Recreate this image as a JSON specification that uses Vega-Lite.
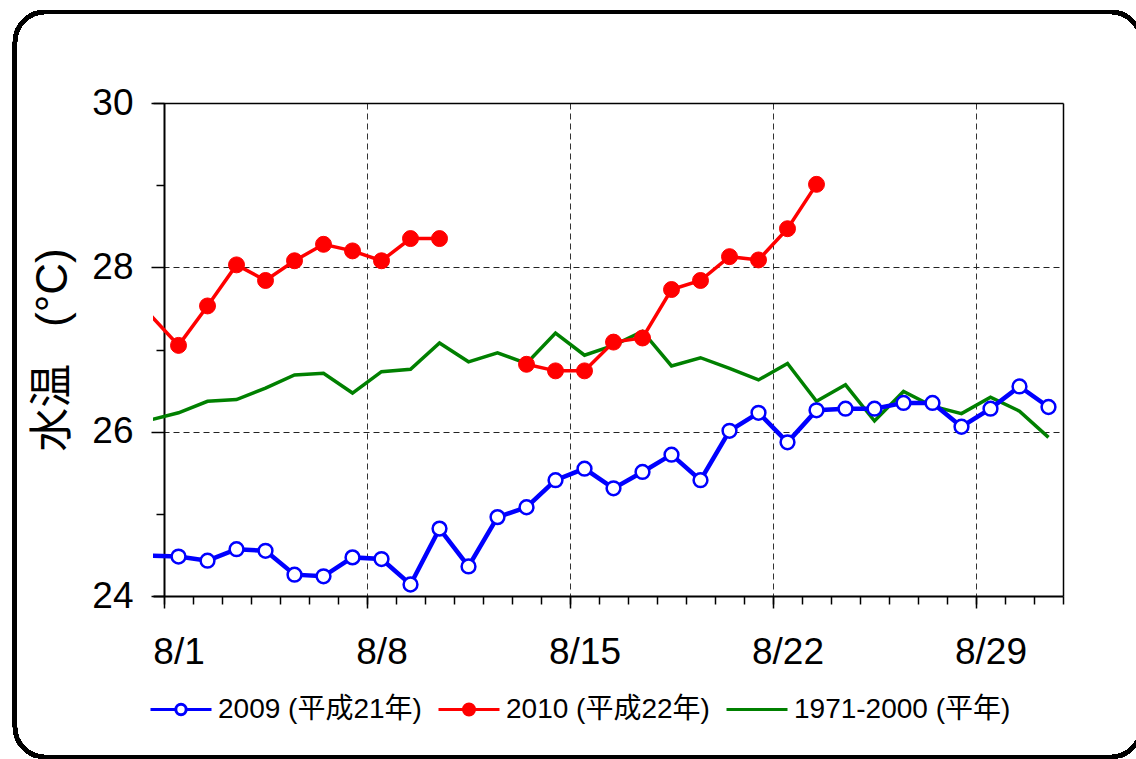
{
  "$schema": "https://vega.github.io/schema/vega-lite/v6.json",
  "autosize": {"type": "none"},
  "width": 910,
  "height": 493,
  "padding": {"left": 153, "top": 103, "right": 73, "bottom": 163},
  "background": "white",
  "data": {"values": [
    {"series": "2009 (平成21年)", "day": 0, "value": 24.49},
    {"series": "2009 (平成21年)", "day": 1, "value": 24.48},
    {"series": "2009 (平成21年)", "day": 2, "value": 24.43},
    {"series": "2009 (平成21年)", "day": 3, "value": 24.57},
    {"series": "2009 (平成21年)", "day": 4, "value": 24.55},
    {"series": "2009 (平成21年)", "day": 5, "value": 24.26},
    {"series": "2009 (平成21年)", "day": 6, "value": 24.24},
    {"series": "2009 (平成21年)", "day": 7, "value": 24.47},
    {"series": "2009 (平成21年)", "day": 8, "value": 24.45},
    {"series": "2009 (平成21年)", "day": 9, "value": 24.14},
    {"series": "2009 (平成21年)", "day": 10, "value": 24.82},
    {"series": "2009 (平成21年)", "day": 11, "value": 24.36},
    {"series": "2009 (平成21年)", "day": 12, "value": 24.96},
    {"series": "2009 (平成21年)", "day": 13, "value": 25.08},
    {"series": "2009 (平成21年)", "day": 14, "value": 25.41},
    {"series": "2009 (平成21年)", "day": 15, "value": 25.55},
    {"series": "2009 (平成21年)", "day": 16, "value": 25.31},
    {"series": "2009 (平成21年)", "day": 17, "value": 25.51},
    {"series": "2009 (平成21年)", "day": 18, "value": 25.72},
    {"series": "2009 (平成21年)", "day": 19, "value": 25.41},
    {"series": "2009 (平成21年)", "day": 20, "value": 26.01},
    {"series": "2009 (平成21年)", "day": 21, "value": 26.23},
    {"series": "2009 (平成21年)", "day": 22, "value": 25.87},
    {"series": "2009 (平成21年)", "day": 23, "value": 26.26},
    {"series": "2009 (平成21年)", "day": 24, "value": 26.28},
    {"series": "2009 (平成21年)", "day": 25, "value": 26.28},
    {"series": "2009 (平成21年)", "day": 26, "value": 26.35},
    {"series": "2009 (平成21年)", "day": 27, "value": 26.35},
    {"series": "2009 (平成21年)", "day": 28, "value": 26.06},
    {"series": "2009 (平成21年)", "day": 29, "value": 26.28},
    {"series": "2009 (平成21年)", "day": 30, "value": 26.55},
    {"series": "2009 (平成21年)", "day": 31, "value": 26.30},
    {"series": "2010 (平成22年)", "day": 0, "value": 27.43},
    {"series": "2010 (平成22年)", "day": 1, "value": 27.05},
    {"series": "2010 (平成22年)", "day": 2, "value": 27.53},
    {"series": "2010 (平成22年)", "day": 3, "value": 28.03},
    {"series": "2010 (平成22年)", "day": 4, "value": 27.84},
    {"series": "2010 (平成22年)", "day": 5, "value": 28.08},
    {"series": "2010 (平成22年)", "day": 6, "value": 28.28},
    {"series": "2010 (平成22年)", "day": 7, "value": 28.20},
    {"series": "2010 (平成22年)", "day": 8, "value": 28.08},
    {"series": "2010 (平成22年)", "day": 9, "value": 28.35},
    {"series": "2010 (平成22年)", "day": 10, "value": 28.35},
    {"series": "2010 (平成22年)", "day": 11, "value": null},
    {"series": "2010 (平成22年)", "day": 12, "value": null},
    {"series": "2010 (平成22年)", "day": 13, "value": 26.82},
    {"series": "2010 (平成22年)", "day": 14, "value": 26.74},
    {"series": "2010 (平成22年)", "day": 15, "value": 26.74},
    {"series": "2010 (平成22年)", "day": 16, "value": 27.09},
    {"series": "2010 (平成22年)", "day": 17, "value": 27.14},
    {"series": "2010 (平成22年)", "day": 18, "value": 27.73},
    {"series": "2010 (平成22年)", "day": 19, "value": 27.84},
    {"series": "2010 (平成22年)", "day": 20, "value": 28.13},
    {"series": "2010 (平成22年)", "day": 21, "value": 28.09},
    {"series": "2010 (平成22年)", "day": 22, "value": 28.47},
    {"series": "2010 (平成22年)", "day": 23, "value": 29.01},
    {"series": "1971-2000 (平年)", "day": 0, "value": 26.14},
    {"series": "1971-2000 (平年)", "day": 1, "value": 26.23},
    {"series": "1971-2000 (平年)", "day": 2, "value": 26.37},
    {"series": "1971-2000 (平年)", "day": 3, "value": 26.39},
    {"series": "1971-2000 (平年)", "day": 4, "value": 26.53},
    {"series": "1971-2000 (平年)", "day": 5, "value": 26.69},
    {"series": "1971-2000 (平年)", "day": 6, "value": 26.71},
    {"series": "1971-2000 (平年)", "day": 7, "value": 26.47},
    {"series": "1971-2000 (平年)", "day": 8, "value": 26.73},
    {"series": "1971-2000 (平年)", "day": 9, "value": 26.76},
    {"series": "1971-2000 (平年)", "day": 10, "value": 27.08},
    {"series": "1971-2000 (平年)", "day": 11, "value": 26.85},
    {"series": "1971-2000 (平年)", "day": 12, "value": 26.96},
    {"series": "1971-2000 (平年)", "day": 13, "value": 26.83},
    {"series": "1971-2000 (平年)", "day": 14, "value": 27.20},
    {"series": "1971-2000 (平年)", "day": 15, "value": 26.93},
    {"series": "1971-2000 (平年)", "day": 16, "value": 27.05},
    {"series": "1971-2000 (平年)", "day": 17, "value": 27.22},
    {"series": "1971-2000 (平年)", "day": 18, "value": 26.80},
    {"series": "1971-2000 (平年)", "day": 19, "value": 26.90},
    {"series": "1971-2000 (平年)", "day": 20, "value": 26.77},
    {"series": "1971-2000 (平年)", "day": 21, "value": 26.63},
    {"series": "1971-2000 (平年)", "day": 22, "value": 26.83},
    {"series": "1971-2000 (平年)", "day": 23, "value": 26.37},
    {"series": "1971-2000 (平年)", "day": 24, "value": 26.57},
    {"series": "1971-2000 (平年)", "day": 25, "value": 26.13},
    {"series": "1971-2000 (平年)", "day": 26, "value": 26.49},
    {"series": "1971-2000 (平年)", "day": 27, "value": 26.31},
    {"series": "1971-2000 (平年)", "day": 28, "value": 26.22},
    {"series": "1971-2000 (平年)", "day": 29, "value": 26.42},
    {"series": "1971-2000 (平年)", "day": 30, "value": 26.25},
    {"series": "1971-2000 (平年)", "day": 31, "value": 25.93}
  ]},
  "resolve": {"axis": {"x": "independent", "y": "independent"}},
  "layer": [
    {
      "mark": {"type": "rect", "fill": "transparent", "stroke": "black", "strokeWidth": 4, "cornerRadius": 30, "clip": false},
      "encoding": {
        "x": {"datum": -4.64, "type": "quantitative", "scale": {"domain": [0.12, 31.5], "nice": false, "zero": false}, "axis": null},
        "x2": {"datum": 34.19},
        "y": {"datum": 31.107, "type": "quantitative", "scale": {"domain": [24, 30], "nice": false, "zero": false}, "axis": null},
        "y2": {"datum": 22.041}
      }
    },
    {
      "transform": [{"filter": "datum.series === '1971-2000 (平年)'"}],
      "mark": {"type": "line", "strokeWidth": 3.5, "clip": true},
      "encoding": {
        "x": {"field": "day", "type": "quantitative", "scale": {"domain": [0.12, 31.5], "nice": false, "zero": false},
              "axis": {"orient": "bottom", "values": [7.5, 14.5, 21.5, 28.5], "grid": true, "gridDash": [6, 4], "gridColor": "#333", "gridWidth": 1, "ticks": false, "labels": false, "domain": false, "title": null}},
        "y": {"field": "value", "type": "quantitative", "scale": {"domain": [24, 30], "nice": false, "zero": false},
              "axis": {"orient": "left", "values": [26, 28], "grid": true, "gridDash": [6, 4], "gridColor": "#222", "gridWidth": 1, "ticks": false, "labels": false, "domain": false, "title": null}},
        "stroke": {"field": "series", "type": "nominal", "scale": {"domain": ["2009 (平成21年)", "2010 (平成22年)", "1971-2000 (平年)"], "range": ["#0000ff", "#ff0000", "#008000"]}, "legend": {"title": null}}
      }
    },
    {
      "transform": [{"filter": "datum.series === '2009 (平成21年)'"}],
      "mark": {"type": "line", "strokeWidth": 4.5, "clip": true},
      "encoding": {
        "x": {"field": "day", "type": "quantitative", "scale": {"domain": [0.12, 31.5], "nice": false, "zero": false},
              "axis": {"orient": "bottom", "values": [0.5, 1.5, 2.5, 3.5, 4.5, 5.5, 6.5, 7.5, 8.5, 9.5, 10.5, 11.5, 12.5, 13.5, 14.5, 15.5, 16.5, 17.5, 18.5, 19.5, 20.5, 21.5, 22.5, 23.5, 24.5, 25.5, 26.5, 27.5, 28.5, 29.5, 30.5, 31.5], "ticks": true, "tickSize": 8, "tickWidth": 1.5, "tickColor": "black", "labels": false, "domain": true, "domainWidth": 2, "domainColor": "black", "grid": false, "title": null}},
        "y": {"field": "value", "type": "quantitative", "scale": {"domain": [24, 30], "nice": false, "zero": false},
              "axis": {"orient": "left", "values": [25, 27, 29], "ticks": true, "tickSize": 8, "tickWidth": 1.5, "tickColor": "black", "labels": false, "domain": false, "grid": false, "offset": -11, "title": null}},
        "stroke": {"field": "series", "type": "nominal", "scale": {"domain": ["2009 (平成21年)", "2010 (平成22年)", "1971-2000 (平年)"], "range": ["#0000ff", "#ff0000", "#008000"]}, "legend": {"title": null}}
      }
    },
    {
      "transform": [{"filter": "datum.series === '2009 (平成21年)' && datum.day >= 1"}],
      "mark": {"type": "point", "filled": true, "opacity": 1, "size": 190, "strokeWidth": 2.5},
      "encoding": {
        "x": {"field": "day", "type": "quantitative", "scale": {"domain": [0.12, 31.5], "nice": false, "zero": false},
              "axis": {"orient": "bottom", "values": [0.5, 7.5, 14.5, 21.5, 28.5], "ticks": true, "tickSize": 12, "tickWidth": 1.5, "tickColor": "black", "labels": false, "domain": false, "grid": false, "title": null}},
        "y": {"field": "value", "type": "quantitative", "scale": {"domain": [24, 30], "nice": false, "zero": false},
              "axis": {"orient": "left", "values": [24, 26, 28, 30], "ticks": true, "tickSize": 13, "tickWidth": 1.5, "tickColor": "black", "labels": true, "labelFontSize": 37, "labelPadding": 18, "labelColor": "black", "labelFlush": false, "domain": true, "domainWidth": 2, "domainColor": "black", "grid": false, "offset": -11,
                       "title": "水温\u00a0\u00a0\u00a0(°C)", "titleFontSize": 44, "titleFontWeight": "normal", "titleColor": "black", "titleX": -111, "titleY": 246.5, "titleBaseline": "middle", "titleAlign": "center", "titleAngle": 270}},
        "stroke": {"field": "series", "type": "nominal", "scale": {"domain": ["2009 (平成21年)", "2010 (平成22年)", "1971-2000 (平年)"], "range": ["#0000ff", "#ff0000", "#008000"]}, "legend": {"title": null}},
        "fill": {"field": "series", "type": "nominal", "scale": {"domain": ["2009 (平成21年)", "2010 (平成22年)", "1971-2000 (平年)"], "range": ["#ffffff", "#ff0000", "#008000"]}, "legend": {"title": null}}
      }
    },
    {
      "transform": [{"filter": "datum.series === '2010 (平成22年)'"}],
      "mark": {"type": "line", "strokeWidth": 3.5, "clip": true},
      "encoding": {
        "x": {"field": "day", "type": "quantitative", "scale": {"domain": [0.12, 31.5], "nice": false, "zero": false},
              "axis": {"orient": "bottom", "values": [1, 8, 15, 22, 29], "ticks": false, "tickSize": 0, "labels": true, "labelExpr": "'8/' + datum.value", "labelFontSize": 37, "labelPadding": 38, "labelColor": "black", "labelFlush": false, "domain": false, "grid": false, "title": null}},
        "y": {"field": "value", "type": "quantitative", "scale": {"domain": [24, 30], "nice": false, "zero": false},
              "axis": {"orient": "right", "domain": true, "domainWidth": 1.5, "domainColor": "black", "ticks": false, "labels": false, "grid": false, "title": null}},
        "stroke": {"field": "series", "type": "nominal", "scale": {"domain": ["2009 (平成21年)", "2010 (平成22年)", "1971-2000 (平年)"], "range": ["#0000ff", "#ff0000", "#008000"]}, "legend": {"title": null}}
      }
    },
    {
      "transform": [{"filter": "datum.series === '2010 (平成22年)' && datum.day >= 1"}],
      "mark": {"type": "point", "filled": true, "opacity": 1, "size": 255, "strokeWidth": 1},
      "encoding": {
        "x": {"field": "day", "type": "quantitative", "scale": {"domain": [0.12, 31.5], "nice": false, "zero": false},
              "axis": {"orient": "top", "domain": true, "domainWidth": 1.5, "domainColor": "black", "ticks": false, "labels": false, "grid": false, "title": null}},
        "y": {"field": "value", "type": "quantitative", "scale": {"domain": [24, 30], "nice": false, "zero": false}, "axis": null},
        "stroke": {"field": "series", "type": "nominal", "scale": {"domain": ["2009 (平成21年)", "2010 (平成22年)", "1971-2000 (平年)"], "range": ["#0000ff", "#ff0000", "#008000"]}, "legend": {"title": null}},
        "fill": {"field": "series", "type": "nominal", "scale": {"domain": ["2009 (平成21年)", "2010 (平成22年)", "1971-2000 (平年)"], "range": ["#ffffff", "#ff0000", "#008000"]}, "legend": {"title": null}}
      }
    },
    {
      "transform": [{"filter": "datum.day > 100"}],
      "mark": {"type": "point", "filled": true, "opacity": 1, "strokeWidth": 3},
      "encoding": {
        "x": {"field": "day", "type": "quantitative", "scale": {"domain": [0.12, 31.5], "nice": false, "zero": false}, "axis": null},
        "y": {"field": "value", "type": "quantitative", "scale": {"domain": [24, 30], "nice": false, "zero": false}, "axis": null},
        "stroke": {"field": "series", "type": "nominal", "scale": {"domain": ["2009 (平成21年)", "2010 (平成22年)", "1971-2000 (平年)"], "range": ["#0000ff", "#ff0000", "#008000"]}, "legend": {"title": null}},
        "fill": {"field": "series", "type": "nominal", "scale": {"domain": ["2009 (平成21年)", "2010 (平成22年)", "1971-2000 (平年)"], "range": ["#ffffff", "#ff0000", "#008000"]}, "legend": {"title": null}},
        "shape": {"field": "series", "type": "nominal", "scale": {"domain": ["2009 (平成21年)", "2010 (平成22年)", "1971-2000 (平年)"], "range": ["M-1,0H-0.17M0.17,0H1M-0.17,0A0.17,0.17,0,1,0,0.17,0A0.17,0.17,0,1,0,-0.17,0Z", "M-1,0H1M-0.18,0A0.18,0.18,0,1,0,0.18,0A0.18,0.18,0,1,0,-0.18,0Z", "M-1,0H1"]}, "legend": {"title": null}}
      }
    }
  ],
  "config": {
    "view": {"stroke": null},
    "font": "Liberation Sans, Noto Sans CJK JP, sans-serif",
    "axis": {"labelFont": "Liberation Sans, Noto Sans CJK JP, sans-serif", "titleFont": "Liberation Sans, Noto Sans CJK JP, sans-serif"},
    "legend": {
      "orient": "none", "legendX": -4, "legendY": 574.5, "direction": "horizontal",
      "symbolSize": 3721, "symbolStrokeWidth": 3,
      "labelFont": "Liberation Sans, Noto Sans CJK JP, sans-serif", "labelFontSize": 28, "labelColor": "black", "labelLimit": 400,
      "labelOffset": 5, "columnPadding": 10, "padding": 0
    }
  }
}
